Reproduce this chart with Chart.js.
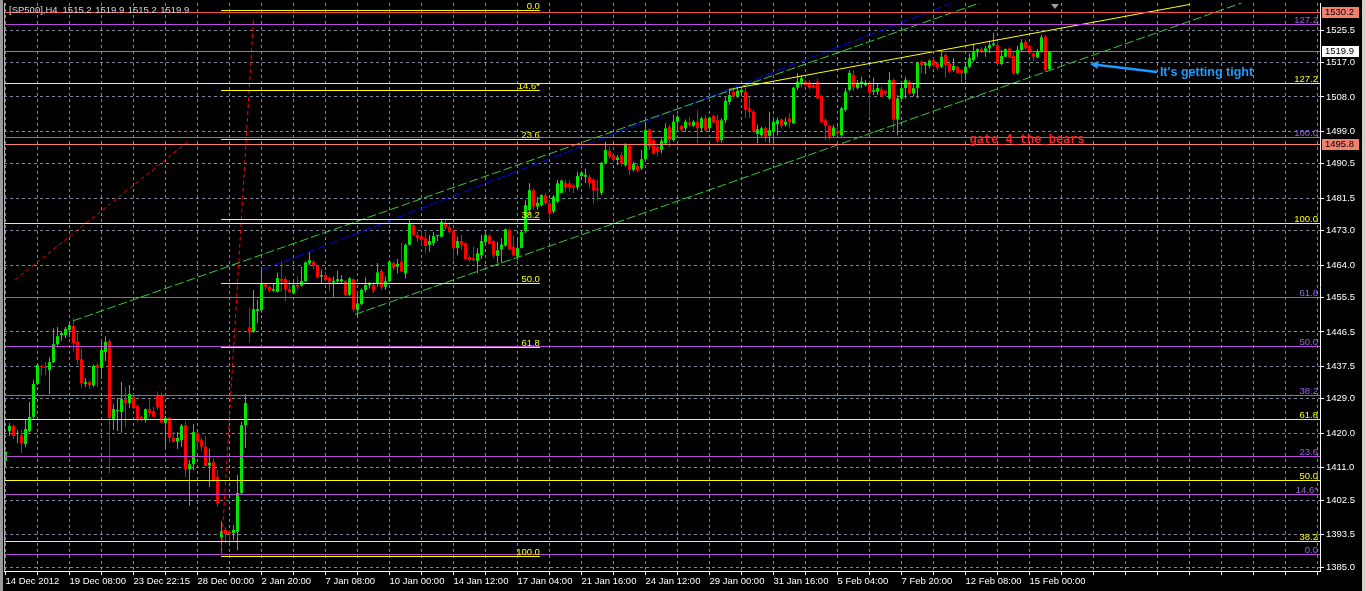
<!DOCTYPE html>
<html><head><meta charset="utf-8">
<script src="https://cdn.jsdelivr.net/npm/chart.js@4.4.1/dist/chart.umd.min.js"></script>
<style>html,body{margin:0;padding:0;background:#000;overflow:hidden}</style>
</head><body>
<canvas id="c" width="1366" height="591"></canvas>
<script>
// ---------- DATA (H4 candles) ----------
const opens = [1412.8,1420.6,1421.9,1419.8,1419.5,1417.2,1420.6,1424.3,1432.9,1437.6,1437.4,1436.5,1438.6,1443.3,1445.7,1445.7,1447.0,1448.1,1443.9,1439.4,1432.9,1433.4,1432.6,1437.9,1437.1,1441.2,1444.1,1423.5,1425.8,1425.6,1428.9,1427.9,1429.5,1427.1,1424.3,1423.7,1426.3,1425.8,1430.0,1430.0,1422.7,1424.0,1418.8,1417.8,1418.2,1422.1,1410.6,1411.9,1420.1,1418.2,1416.5,1411.5,1412.4,1408.6,1392.7,1394.7,1394.2,1393.9,1394.2,1404.4,1422.1,1447.7,1446.6,1452.0,1452.2,1459.0,1458.3,1457.3,1457.0,1460.4,1460.4,1457.7,1456.6,1458.8,1458.6,1459.8,1464.5,1464.8,1463.8,1461.0,1461.4,1460.7,1459.4,1459.8,1459.8,1459.8,1456.2,1460.3,1452.2,1453.8,1457.5,1458.8,1458.8,1459.2,1462.5,1458.3,1459.8,1464.5,1463.6,1464.9,1461.8,1469.3,1474.5,1471.9,1471.6,1471.0,1469.3,1469.7,1471.6,1471.4,1474.7,1473.9,1473.0,1468.5,1470.3,1469.7,1466.0,1465.8,1465.1,1466.6,1470.0,1471.6,1470.3,1466.4,1468.1,1469.1,1473.2,1468.8,1466.2,1468.5,1472.9,1478.4,1483.6,1479.3,1479.7,1482.3,1480.2,1478.0,1480.6,1482.9,1485.5,1485.4,1484.9,1484.3,1487.3,1487.1,1487.1,1486.3,1484.1,1482.9,1490.8,1493.9,1492.8,1491.5,1492.8,1490.2,1495.2,1488.9,1489.9,1489.3,1491.7,1499.5,1496.7,1494.9,1494.1,1495.9,1500.2,1496.7,1501.5,1500.4,1499.8,1501.3,1500.4,1501.5,1499.8,1502.4,1499.8,1503.0,1501.9,1496.7,1501.9,1506.7,1509.4,1508.1,1509.2,1509.4,1505.0,1504.1,1498.3,1498.0,1499.8,1497.8,1498.9,1500.9,1502.1,1500.7,1502.4,1501.1,1510.4,1511.7,1512.0,1511.8,1511.1,1512.0,1508.2,1501.9,1500.4,1497.8,1499.1,1498.0,1504.6,1509.8,1513.7,1510.3,1511.4,1511.1,1511.7,1509.4,1509.4,1510.0,1509.6,1507.6,1512.4,1502.1,1507.6,1510.3,1512.0,1508.9,1510.3,1517.2,1516.3,1516.1,1517.6,1516.9,1515.9,1519.0,1516.9,1515.0,1515.9,1515.0,1514.2,1515.9,1517.6,1519.7,1520.5,1519.8,1520.7,1521.6,1521.6,1516.6,1518.5,1520.7,1518.7,1514.2,1520.3,1522.4,1521.3,1519.4,1518.4,1519.8,1523.8,1515.2];
const highs = [1415.2,1422.7,1422.2,1420.9,1420.9,1423.5,1428.2,1433.9,1438.4,1437.9,1438.7,1439.9,1447.5,1447.8,1446.7,1447.8,1449.1,1450.1,1446.2,1442.0,1434.4,1433.9,1437.9,1438.6,1443.9,1445.4,1444.6,1427.6,1429.2,1433.4,1432.1,1432.6,1430.3,1427.6,1424.5,1426.5,1428.9,1426.9,1430.9,1430.6,1424.6,1424.3,1420.3,1420.3,1422.4,1423.3,1413.0,1422.4,1420.3,1418.8,1419.3,1415.9,1413.4,1410.4,1397.0,1395.5,1394.7,1396.0,1409.1,1423.0,1430.3,1452.9,1457.5,1454.9,1462.7,1459.3,1458.7,1459.2,1462.0,1465.1,1460.9,1460.1,1460.1,1461.1,1463.6,1464.9,1467.4,1465.3,1464.0,1462.7,1462.3,1461.0,1461.0,1462.5,1461.4,1460.1,1460.8,1460.5,1457.0,1457.9,1460.8,1459.6,1459.6,1464.5,1463.0,1461.0,1465.3,1464.9,1465.6,1469.9,1469.7,1475.8,1474.7,1472.7,1472.7,1472.7,1471.9,1472.7,1471.9,1475.8,1475.8,1475.3,1473.2,1471.4,1471.9,1470.1,1466.6,1468.8,1468.4,1471.9,1472.4,1472.1,1470.6,1470.1,1471.0,1473.6,1473.6,1471.6,1470.6,1473.2,1481.0,1485.4,1484.1,1481.9,1482.5,1482.8,1481.0,1482.3,1486.3,1486.4,1486.3,1486.3,1485.4,1488.4,1488.4,1489.3,1487.6,1486.7,1486.3,1491.0,1496.3,1495.0,1493.2,1492.8,1493.7,1495.9,1495.4,1491.0,1490.6,1494.1,1501.5,1499.8,1497.3,1495.4,1497.1,1501.1,1500.7,1503.3,1503.3,1500.7,1502.1,1502.8,1501.9,1504.6,1502.8,1503.3,1502.8,1503.3,1503.3,1502.4,1507.9,1509.8,1510.3,1510.7,1510.5,1510.3,1507.9,1504.6,1500.7,1500.2,1500.2,1504.1,1502.8,1502.6,1502.4,1502.6,1503.7,1510.7,1514.2,1513.7,1512.4,1512.4,1511.4,1512.9,1508.5,1502.4,1500.7,1500.7,1500.4,1505.4,1510.3,1515.0,1515.0,1512.4,1513.3,1512.4,1512.0,1513.1,1511.6,1510.7,1509.8,1514.6,1512.9,1508.5,1512.0,1513.3,1512.4,1511.6,1517.2,1517.6,1517.2,1517.8,1518.1,1517.2,1519.8,1519.4,1517.6,1518.1,1516.1,1515.2,1516.9,1519.4,1522.0,1520.7,1521.0,1521.3,1522.7,1524.8,1522.9,1520.3,1520.7,1521.0,1519.8,1521.3,1523.1,1523.1,1521.6,1519.6,1520.5,1524.2,1524.2,1519.9];
const lows = [1411.3,1419.3,1418.5,1417.4,1414.8,1416.4,1420.3,1423.8,1432.6,1435.2,1435.2,1430.3,1438.4,1442.6,1444.2,1444.9,1445.2,1441.2,1437.9,1431.8,1432.1,1431.6,1432.1,1432.1,1434.2,1438.9,1409.6,1420.9,1420.6,1420.1,1421.6,1426.6,1426.3,1422.8,1423.0,1422.8,1424.3,1424.1,1426.1,1422.6,1415.6,1417.5,1417.5,1415.9,1416.4,1408.5,1401.0,1410.4,1415.6,1415.2,1411.1,1405.9,1407.3,1400.7,1388.7,1391.3,1391.3,1392.1,1389.4,1404.1,1416.2,1443.7,1446.2,1448.8,1451.5,1457.5,1457.0,1457.0,1456.8,1457.0,1454.7,1456.6,1456.4,1457.5,1458.3,1459.6,1464.0,1463.0,1460.5,1459.2,1459.6,1457.3,1455.7,1459.2,1459.2,1455.9,1455.9,1451.8,1450.5,1453.5,1456.8,1457.9,1456.6,1458.3,1457.5,1457.5,1459.6,1462.7,1461.8,1462.1,1460.5,1469.1,1471.6,1470.1,1469.3,1467.1,1467.5,1469.0,1470.3,1471.2,1473.2,1472.1,1465.3,1466.6,1467.9,1465.3,1464.9,1464.9,1461.8,1465.6,1469.3,1469.3,1465.8,1464.5,1464.5,1468.8,1467.9,1466.4,1465.3,1468.4,1472.4,1477.1,1478.4,1478.4,1479.3,1479.7,1476.2,1477.5,1480.2,1482.8,1483.2,1483.2,1482.8,1483.6,1487.0,1485.4,1484.1,1480.0,1480.8,1482.3,1490.6,1491.9,1491.0,1490.2,1489.7,1489.7,1487.6,1488.4,1488.4,1488.9,1491.5,1494.1,1492.8,1492.5,1493.2,1495.4,1494.8,1496.3,1498.9,1498.9,1498.9,1500.2,1500.2,1496.0,1498.9,1498.9,1499.6,1500.9,1495.9,1496.0,1501.1,1505.9,1507.6,1507.8,1508.2,1502.4,1502.4,1498.5,1495.9,1497.6,1496.3,1495.9,1495.9,1498.0,1499.8,1500.2,1499.8,1500.9,1509.8,1510.7,1510.8,1510.0,1510.2,1507.4,1501.1,1496.7,1496.7,1497.6,1497.8,1497.6,1504.1,1509.4,1509.4,1510.0,1510.3,1510.7,1503.0,1508.5,1508.5,1507.9,1508.2,1507.2,1498.9,1498.0,1507.2,1507.6,1508.5,1508.1,1507.6,1514.2,1514.0,1515.5,1515.9,1515.0,1515.5,1513.1,1514.2,1514.6,1514.0,1511.6,1512.4,1515.5,1517.2,1518.4,1519.4,1518.5,1519.4,1521.1,1516.3,1516.3,1518.4,1518.1,1513.7,1513.7,1519.8,1520.3,1519.4,1517.2,1518.1,1519.4,1514.6,1515.2];
const closes = [1415.2,1421.9,1419.3,1420.1,1417.4,1421.1,1424.3,1432.9,1437.9,1437.3,1437.1,1438.6,1443.3,1445.4,1446.2,1447.3,1448.3,1443.6,1439.2,1433.1,1433.4,1432.6,1437.6,1437.1,1441.8,1443.9,1424.0,1426.3,1426.1,1428.9,1427.9,1430.3,1426.6,1423.7,1423.7,1426.3,1425.3,1424.3,1426.9,1422.8,1424.0,1418.8,1417.8,1418.8,1422.0,1410.6,1411.9,1420.3,1417.8,1416.5,1411.5,1412.3,1407.8,1401.7,1394.4,1393.6,1393.6,1394.7,1404.4,1422.1,1427.9,1446.4,1452.5,1452.5,1459.3,1458.3,1457.3,1457.7,1460.6,1459.8,1457.7,1456.9,1458.8,1458.3,1459.8,1464.7,1465.3,1463.8,1460.8,1461.4,1460.1,1459.5,1459.9,1460.3,1460.3,1456.2,1460.5,1452.4,1454.0,1457.5,1458.8,1459.0,1457.3,1462.1,1458.3,1459.8,1464.9,1463.2,1464.3,1462.3,1469.3,1474.9,1471.9,1471.0,1470.6,1469.0,1470.3,1471.6,1471.9,1475.3,1473.9,1472.7,1468.4,1470.3,1469.3,1465.6,1465.3,1465.3,1467.1,1470.3,1471.9,1469.5,1466.6,1467.9,1469.4,1473.4,1468.2,1466.6,1468.4,1472.7,1479.7,1483.6,1479.3,1480.3,1482.3,1480.2,1477.5,1481.9,1485.4,1486.1,1484.3,1484.3,1484.3,1487.3,1488.2,1487.6,1485.5,1483.5,1483.6,1490.8,1494.1,1492.4,1491.5,1492.2,1490.6,1495.4,1488.9,1490.4,1488.7,1491.7,1499.3,1495.0,1493.2,1493.7,1496.5,1499.8,1496.7,1501.5,1502.8,1499.3,1501.5,1500.7,1501.5,1499.8,1502.4,1499.3,1502.6,1501.3,1496.5,1501.9,1507.0,1508.5,1508.1,1509.6,1509.8,1504.6,1504.1,1498.9,1499.5,1499.8,1497.6,1499.3,1501.5,1501.9,1500.4,1501.5,1501.3,1510.4,1512.0,1512.9,1511.1,1510.4,1510.4,1507.6,1501.3,1500.4,1497.6,1500.0,1498.3,1505.0,1509.4,1514.3,1510.5,1511.6,1512.0,1511.7,1509.1,1509.8,1510.3,1508.1,1508.8,1512.4,1502.1,1507.6,1510.3,1512.4,1508.9,1510.3,1516.9,1516.3,1516.8,1517.5,1516.3,1515.5,1518.5,1516.3,1514.6,1516.1,1514.3,1514.3,1515.9,1518.1,1519.8,1520.5,1519.8,1520.7,1521.6,1522.0,1516.6,1518.7,1520.5,1518.4,1514.2,1520.3,1522.2,1520.7,1519.6,1518.5,1520.0,1523.6,1515.0,1519.9];

const timeLabels = ['14 Dec 2012','19 Dec 08:00','23 Dec 22:15','28 Dec 00:00','2 Jan 20:00','7 Jan 08:00','10 Jan 00:00','14 Jan 12:00','17 Jan 04:00','21 Jan 16:00','24 Jan 12:00','29 Jan 00:00','31 Jan 16:00','5 Feb 04:00','7 Feb 20:00','12 Feb 08:00','15 Feb 00:00'];
const priceTicks = [1385.0,1393.5,1402.5,1411.0,1420.0,1429.0,1437.5,1446.5,1455.5,1464.0,1473.0,1481.5,1490.5,1499.0,1508.0,1517.0,1525.5];

// horizontal levels
const redLevel = 1530.2;
const bearLevel = 1495.8;
const purpleFibLevels = [1388.3,1404.2,1414.1,1430.0,1442.8,1455.7,1497.4,1527.1];
const purpleFibLabels = ['0.0','14.6*','23.6','38.2','50.0','61.8','100.0','127.2'];
const yellowFibLevels = [1391.8,1407.7,1423.6,1475.1,1511.7];
const yellowFibLabels = ['38.2','50.0','61.8','100.0','127.2'];
const midFibLevels = [1530.7,1509.9,1497.0,1476.1,1459.3,1442.5,1388.0];
const midFibLabels = ['0.0','14.6*','23.6','38.2','50.0','61.8','100.0'];
const midFibBars = [53.9,133.6];

// trend lines: [bar, price] end points
const upperChannel = [[16.9,1449.4],[243.6,1532.6]];
const lowerChannel = [[87.4,1451.1],[309.1,1532.6]];
const blueLine = [[64.1,1462.7],[236.7,1532.6]];
const yellowTrend = [[180.6,1509.9],[296.1,1532.2]];
const redSteep = [[53.9,1388.1],[62.0,1528.6]];
const redGentle = [[2.4,1460.1],[46.1,1496.7]];

// annotations: [bar, price]
const bearsNote = {text:'gate_4_the_bears', at:[241.0,1496.6]};
const tightNote = {text:"It's getting tight", at:[288.6,1514.25]};
const tightArrow = [[287.9,1514.5],[271.1,1516.6]];

// ---------- STYLE ----------
const UP = '#00e600', DN = '#ff0000';
const FONT = '"Liberation Sans", Arial, sans-serif';
const GRID = '#7a8899';

const idx = opens.map((_, i) => i);
const candleColors = idx.map(i => closes[i] >= opens[i] ? UP : DN);
const last = opens.length - 1;

function lineDs(pts, color, dash) {
  return {type:'line', data: pts.map(([b,p]) => ({x:b, y:p})), borderColor: color, borderWidth: 1,
    borderDash: dash, pointRadius: 0, fill: false, tension: 0, order: 1};
}

const overlay = {
  id: 'overlay',
  beforeDraw(chart) {
    const {ctx, width, height} = chart;
    ctx.save();
    ctx.fillStyle = '#000';
    ctx.fillRect(0, 0, width, height);
    ctx.restore();
  },
  afterDatasetsDraw(chart) {
    const {ctx, chartArea: a, scales: {x, y}} = chart;
    ctx.save();
    ctx.beginPath(); ctx.rect(a.left, a.top, a.right - a.left, a.bottom - a.top); ctx.clip();
    const py = p => Math.round(y.getPixelForValue(p)) + 0.5;
    const hl = (p, color, x0, x1) => {
      ctx.strokeStyle = color; ctx.lineWidth = 1; ctx.setLineDash([]);
      ctx.beginPath(); ctx.moveTo(x0, py(p)); ctx.lineTo(x1, py(p)); ctx.stroke();
    };
    ctx.font = '9.5px ' + FONT;
    ctx.textAlign = 'right'; ctx.textBaseline = 'alphabetic';
    purpleFibLevels.forEach((p, i) => {
      hl(p, '#b848d8', a.left, a.right);
      ctx.fillStyle = '#9a62e0';
      ctx.fillText(purpleFibLabels[i], a.right - 2, py(p) - 2);
    });
    yellowFibLevels.forEach((p, i) => {
      hl(p, '#ffff00', a.left, a.right);
      ctx.fillStyle = '#ffff00';
      ctx.fillText(yellowFibLabels[i], a.right - 2, py(p) - 2);
    });
    const mx0 = x.getPixelForValue(midFibBars[0]), mx1 = x.getPixelForValue(midFibBars[1]);
    midFibLevels.forEach((p, i) => {
      hl(p, '#ffff00', mx0, mx1);
      ctx.fillStyle = '#ffff00';
      ctx.fillText(midFibLabels[i], mx1, py(p) - 2);
    });
    hl(redLevel, '#f55050', a.left, a.right);
    hl(bearLevel, '#fa8072', a.left, a.right);
    hl(closes[last], '#778899', a.left, a.right);
    ctx.textAlign = 'left'; ctx.textBaseline = 'middle';
    ctx.font = 'bold 12px "Liberation Mono", monospace';
    ctx.fillStyle = '#ff2020';
    ctx.fillText(bearsNote.text, x.getPixelForValue(bearsNote.at[0]), y.getPixelForValue(bearsNote.at[1]));
    ctx.font = 'bold 12.5px ' + FONT;
    ctx.fillStyle = '#1e9bff';
    ctx.fillText(tightNote.text, x.getPixelForValue(tightNote.at[0]), y.getPixelForValue(tightNote.at[1]));
    const ax0 = x.getPixelForValue(tightArrow[0][0]), ay0 = y.getPixelForValue(tightArrow[0][1]);
    const ax1 = x.getPixelForValue(tightArrow[1][0]), ay1 = y.getPixelForValue(tightArrow[1][1]);
    ctx.strokeStyle = '#1e9bff'; ctx.fillStyle = '#1e9bff'; ctx.lineWidth = 2.5;
    ctx.beginPath(); ctx.moveTo(ax0, ay0); ctx.lineTo(ax1 + 6, ay1 + 0.7); ctx.stroke();
    const ang = Math.atan2(ay1 - ay0, ax1 - ax0);
    ctx.beginPath();
    ctx.moveTo(ax1, ay1);
    ctx.lineTo(ax1 - 9 * Math.cos(ang - 0.45), ay1 - 9 * Math.sin(ang - 0.45));
    ctx.lineTo(ax1 - 9 * Math.cos(ang + 0.45), ay1 - 9 * Math.sin(ang + 0.45));
    ctx.closePath(); ctx.fill();
    ctx.restore();
  },
  afterDraw(chart) {
    const {ctx, chartArea: a, scales: {y}} = chart;
    ctx.save();
    ctx.fillStyle = '#9a9a9a'; ctx.fillRect(0, 0, 3, chart.height);
    ctx.fillStyle = '#d4d0c8'; ctx.fillRect(1362, 0, 4, chart.height);
    ctx.strokeStyle = '#b0b0b0'; ctx.lineWidth = 1;
    ctx.beginPath(); ctx.moveTo(a.left + 0.5, a.top); ctx.lineTo(a.left + 0.5, a.bottom); ctx.stroke();
    ctx.font = '9.5px ' + FONT; ctx.textAlign = 'left'; ctx.textBaseline = 'middle';
    ctx.fillStyle = '#d8d8d8';
    const hdr = ['[SP500],H4', opens[last].toFixed(1), highs[last].toFixed(1), lows[last].toFixed(1), closes[last].toFixed(1)];
    let hx = 9;
    hdr.forEach((t, i) => { ctx.fillText(t, hx, 10); hx += ctx.measureText(t).width + (i === 0 ? 5 : 3.5); });
    ctx.fillStyle = '#a0a0a0';
    ctx.beginPath(); ctx.moveTo(1051, 4); ctx.lineTo(1059, 4); ctx.lineTo(1055, 9); ctx.closePath(); ctx.fill();
    const box = (p, bg, fg) => {
      const cy = Math.round(y.getPixelForValue(p));
      ctx.fillStyle = bg; ctx.fillRect(a.right + 2, cy - 5, 37, 11);
      ctx.fillStyle = fg; ctx.fillText(p.toFixed(1), a.right + 5, cy + 0.5);
    };
    box(redLevel, '#f08070', '#000');
    box(closes[last], '#ffffff', '#000');
    box(bearLevel, '#f08070', '#000');
    ctx.restore();
  }
};

const xTickValues = [];
for (let b = 0; b <= 328; b += 8) xTickValues.push(b);

new Chart(document.getElementById('c'), {
  type: 'bar',
  data: {
    datasets: [
      {type:'bar', data: idx.map(i => ({x:i, y:[lows[i], highs[i]]})), backgroundColor: candleColors,
       barThickness: 1, grouped: false, inflateAmount: 0, borderWidth: 0, order: 3},
      {type:'bar', data: idx.map(i => ({x:i, y:[opens[i], closes[i]]})), backgroundColor: candleColors,
       barThickness: 3, minBarLength: 1, grouped: false, inflateAmount: 0, borderWidth: 0, order: 2},
      lineDs(upperChannel, '#32cd32', [9, 3]),
      lineDs(lowerChannel, '#32cd32', [9, 3]),
      lineDs(blueLine, '#0000ff', [9, 3]),
      lineDs(yellowTrend, '#ffff00', []),
      lineDs(redSteep, '#ff0000', [4, 3]),
      lineDs(redGentle, '#ff0000', [4, 3])
    ]
  },
  options: {
    responsive: false, animation: false, devicePixelRatio: 1, events: [],
    layout: {padding: {left: 4, top: 3, right: 0, bottom: 0}},
    plugins: {legend: {display: false}, tooltip: {enabled: false}},
    scales: {
      x: {
        type: 'linear', min: -0.375, max: 328.625, offset: false,
        afterBuildTicks: s => { s.ticks = xTickValues.map(v => ({value: v})); },
        afterFit: s => { s.height = 20; s.paddingLeft = 0; s.paddingRight = 0; },
        grid: {color: GRID, offset: false, tickLength: 4, tickColor: '#ffffff', drawOnChartArea: true},
        border: {display: true, color: '#ffffff', width: 1, dash: [3, 3]},
        ticks: {color: '#ffffff', font: {family: FONT, size: 9.5}, align: 'start', padding: 1,
          maxRotation: 0, autoSkip: false,
          callback: v => (v % 16 === 0 && timeLabels[v / 16]) ? timeLabels[v / 16] : ''}
      },
      y: {
        type: 'linear', position: 'right', min: 1383.96, max: 1532.57,
        afterBuildTicks: s => { s.ticks = priceTicks.map(v => ({value: v})); },
        afterFit: s => { s.width = 46; s.paddingTop = 0; s.paddingBottom = 0; },
        grid: {color: GRID, tickLength: 4, tickColor: '#ffffff'},
        border: {display: true, color: '#ffffff', width: 1, dash: [3, 3]},
        ticks: {color: '#ffffff', font: {family: FONT, size: 9.5}, padding: 2,
          callback: v => Number(v).toFixed(1)}
      }
    }
  },
  plugins: [overlay]
});
</script>
</body></html>
